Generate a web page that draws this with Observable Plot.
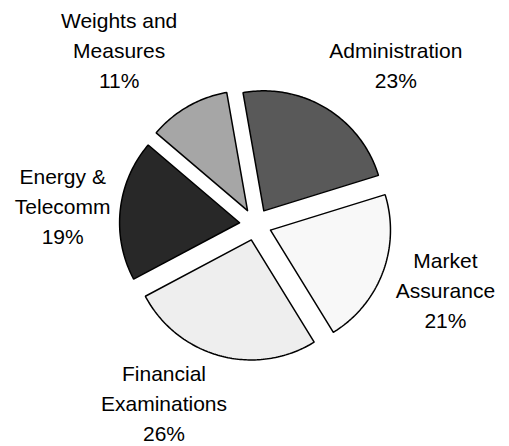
<!DOCTYPE html>
<html>
<head>
<meta charset="utf-8">
<script src="https://cdn.jsdelivr.net/npm/d3@7"></script>
<script src="https://cdn.jsdelivr.net/npm/@observablehq/plot@0.6"></script>
<style>
  html, body { margin: 0; padding: 0; background: #fff; }
  svg { display: block; }
</style>
</head>
<body>
<div id="chart"></div>
<script>
// ---- data ----
const categories = ["Administration", "Market\nAssurance", "Financial\nExaminations", "Energy &\nTelecomm", "Weights and\nMeasures"];
const shares = [23, 21, 26, 19, 11];
const sliceColors = ["#595959", "#f8f8f8", "#eeeeee", "#282828", "#a6a6a6"];

// ---- layout ----
const W = 509, H = 446;
const PX = 120;             // pixels per unit radius
const cx = 255, cy = 224;   // pie centre in pixels
const startDeg = -10;       // first slice starts slightly left of 12 o'clock
const explode = 16 / PX;    // exploded offset
const labelR = 1.7;
const labelNudge = [[34, 13], [-1, -8], [-38, -20], [10, 2], [-35, 1]]; // pixel nudges

const total = d3.sum(shares);
const rad = d => d * Math.PI / 180;
let acc = startDeg;
const slices = categories.map((name, i) => {
  const a0 = acc, a1 = acc + shares[i] / total * 360;
  acc = a1;
  return {name, value: shares[i], a0, a1, mid: (a0 + a1) / 2, i};
});

const pts = [];
for (const s of slices) {
  const ox = explode * Math.sin(rad(s.mid)), oy = explode * Math.cos(rad(s.mid));
  pts.push({name: s.name, x: ox, y: oy});
  const n = Math.max(8, Math.ceil((s.a1 - s.a0) / 1));
  for (let k = 0; k <= n; k++) {
    const a = rad(s.a0 + (s.a1 - s.a0) * k / n);
    pts.push({name: s.name, x: ox + Math.sin(a), y: oy + Math.cos(a)});
  }
  pts.push({name: s.name, x: ox, y: oy});
}

const labels = slices.map(s => ({
  text: s.name + "\n" + s.value + "%",
  x: labelR * Math.sin(rad(s.mid)) + labelNudge[s.i][0] / PX,
  y: labelR * Math.cos(rad(s.mid)) - labelNudge[s.i][1] / PX
}));

const chart = Plot.plot({
  width: W,
  height: H,
  margin: 0,
  x: {domain: [-cx / PX, (W - cx) / PX], axis: null},
  y: {domain: [-(H - cy) / PX, cy / PX], axis: null},
  color: {domain: categories, range: sliceColors},
  style: {fontFamily: "'Liberation Sans', Arial, sans-serif", background: "#fff"},
  marks: [
    Plot.line(pts, {x: "x", y: "y", z: "name", fill: "name", stroke: "#000", strokeWidth: 1.5, strokeLinejoin: "miter", curve: "linear"}),
    Plot.text(labels, {x: "x", y: "y", text: "text", fontSize: 21, lineHeight: 1.43, fill: "#000", textAnchor: "middle", lineAnchor: "middle"})
  ]
});
document.getElementById("chart").appendChild(chart);
</script>
</body>
</html>
